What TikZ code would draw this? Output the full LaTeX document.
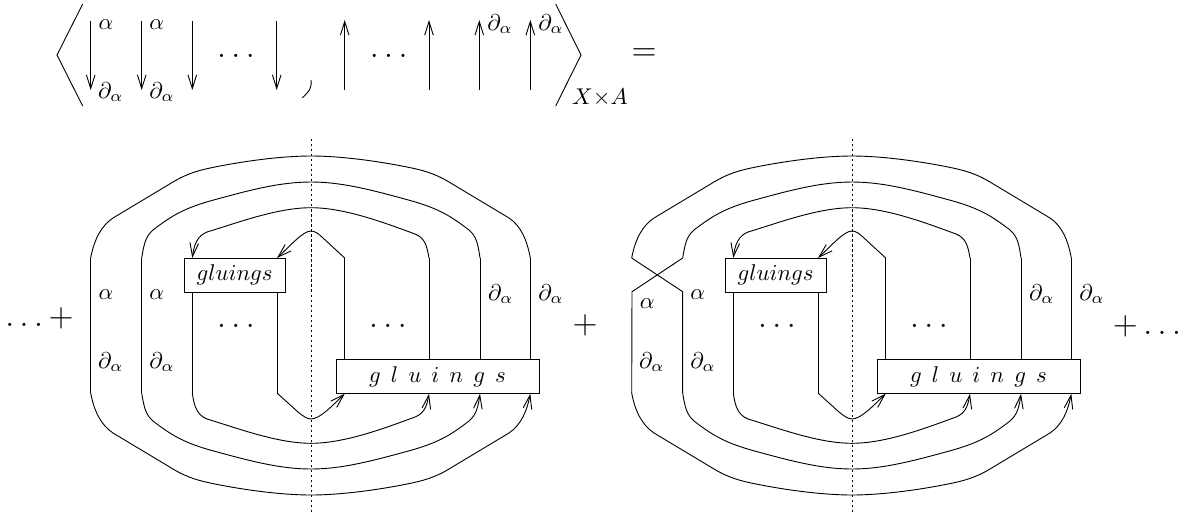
\documentclass[tikz,border=0pt]{standalone}
\usepackage{tikz}
\usetikzlibrary{arrows.meta}
\tikzstyle{arrow} = [-{Straight Barb[length=6pt,width=3.8pt]}]
\tikzstyle{smallbox} = [
    rectangle,
    inner sep=0pt,
    minimum width=44.3pt,
    minimum height=14.9pt,
    fill=white,
    draw=black
]
\tikzstyle{largebox} = [
    rectangle,
    inner sep=0pt,
    minimum width=89pt,
    minimum height=14.9pt,
    fill=white,
    draw=black
]
\tikzstyle{axis} = [dash pattern=on 1pt off 1.2pt]
\tikzstyle{label} = [inner sep=0pt]
\tikzstyle{dotlabel} = [inner sep=0pt, anchor=base, font=\Large]

\begin{document}
\begin{tikzpicture}[x=0.4386pt, y=-0.4386pt]

\useasboundingbox (0,0) rectangle (1185,517);

% top row
\coordinate (lefttop) at (82.7,4);
\coordinate (leftmid) at (57,55);
\coordinate (leftbot) at (82.7,106);
\coordinate (righttop) at (555.7,4);
\coordinate (rightmid) at (581,55);
\coordinate (rightbot) at (555.7,106);

\draw (lefttop) -- (leftmid) -- (leftbot);
\draw (righttop) -- (rightmid) -- (rightbot);

\foreach \i/\x in {1/90.7, 2/141.7, 3/192.3, 4/276.7} {
    \coordinate (downtop\i) at (\x,21);
    \coordinate (downbot\i) at (\x,90);
    \draw [arrow] (downtop\i) -- (downbot\i);
}

\foreach \i/\x in {1/344.7, 2/429, 3/479.3, 4/530.3} {
    \coordinate (upbot\i) at (\x,89.5);
    \coordinate (uptop\i) at (\x,20);
    \draw [arrow] (upbot\i) -- (uptop\i);
}

\node (a1) [label] at (106,25) {$\alpha$};
\node (a2) [label] at (156.7,25) {$\alpha$};
\node (d1) [label] at (110.7,92) {$\partial_\alpha$};
\node (d2) [label] at (162,92) {$\partial_\alpha$};
\node (d3) [label] at (500,24) {$\partial_\alpha$};
\node (d4) [label] at (551,24) {$\partial_\alpha$};
\node (dots1) [dotlabel] at (236,57.5) {$\ldots$};
\node (dots2) [dotlabel] at (388.7,57.5) {$\ldots$};
\node (times) [label] at (600,98) {$X{\times}A$};
\node (equal) [label] at (644,55) {\Large $=$};

\coordinate (commatop) at (311,80);
\coordinate (commabot) at (302.3,97.7);
\draw (commatop) .. controls (312,88) and (309,92) .. (commabot);

% the two closed diagrams
\foreach \pre/\dx in {p/0, q/541} {
\begin{scope}[shift={(\dx,0)}]

\foreach \i/\x in {1/90.7, 2/141.7, 3/192.3, 4/277, 5/344.7, 6/429, 7/480, 8/530.3} {
    \coordinate (\pre top\i) at (\x,258);
    \coordinate (\pre bot\i) at (\x,393);
}

\coordinate (\pre axtop) at (311,139);
\coordinate (\pre axbot) at (311,512);
\draw [axis] (\pre axtop) -- (\pre axbot);

\node (\pre small) [smallbox] at (234.7,275) {$gluings$};

\node (\pre large) [largebox] at (437.5,376.3) 
{$g\mkern8mu l\mkern8mu u\mkern8mu i\mkern8mu n\mkern8mu g\mkern8mu s$};

\node (\pre dotsl) [dotlabel] at (236,327.5) {$\ldots$};
\node (\pre dotsr) [dotlabel] at (388,327.5) {$\ldots$};

\node (\pre a2) [label] at (156.7,295) {$\alpha$};
\node (\pre d1) [label] at (110.7,362) {$\partial_\alpha$};
\node (\pre d2) [label] at (162,362) {$\partial_\alpha$};
\node (\pre d3) [label] at (500.7,294) {$\partial_\alpha$};
\node (\pre d4) [label] at (551,294) {$\partial_\alpha$};

% upper arcs
\draw (\pre top1) .. controls (94,240) and (101,226) .. (113,218) -- (173,182)
    .. controls (188,173) and (200,170) .. (215,167)
    .. controls (250,160) and (285,156) .. (311,156)
    .. controls (337,156) and (372,160) .. (407,167)
    .. controls (422,170) and (434,173) .. (449,182) -- (509,218)
    .. controls (521,226) and (527,240) .. (\pre top8);
\draw (\pre top2) .. controls (144,243) and (146,236) .. (153,230)
    .. controls (170,217) and (182,209) .. (210,201)
    .. controls (250,190) and (280,182) .. (311,182)
    .. controls (342,182) and (372,190) .. (412,201)
    .. controls (440,209) and (452,217) .. (469,230)
    .. controls (476,236) and (478,243) .. (\pre top7);
\draw [arrow] (\pre top6) .. controls (427,246) and (425,238) .. (415,234)
    .. controls (385,223) and (345,207.7) .. (311,207.7)
    .. controls (277,207.7) and (237,223) .. (207,232)
    .. controls (197,236) and (194,245) .. (\pre top3);
\draw [arrow] (\pre top5) -- (323,238)
    .. controls (319,234) and (315,231) .. (311,231)
    .. controls (303,231) and (290,246) .. (\pre top4);

% lower arcs
\draw [arrow] (\pre bot1) .. controls (94,411) and (101,425) .. (113,433) -- (173,469)
    .. controls (188,478) and (200,481) .. (215,484)
    .. controls (250,491) and (285,495) .. (311,495)
    .. controls (337,495) and (372,491) .. (407,484)
    .. controls (422,481) and (434,478) .. (449,469) -- (509,433)
    .. controls (521,425) and (527,411) .. (\pre top8 |- \pre large.south);
\draw [arrow] (\pre bot2) .. controls (144,408) and (146,415) .. (153,421)
    .. controls (170,434) and (182,442) .. (210,450)
    .. controls (250,461) and (280,469) .. (311,469)
    .. controls (342,469) and (372,461) .. (412,450)
    .. controls (440,442) and (452,434) .. (469,421)
    .. controls (476,415) and (478,408) .. (\pre top7 |- \pre large.south);
\draw [arrow] (\pre bot3) .. controls (194,406) and (197,415) .. (207,419)
    .. controls (237,428) and (277,443.3) .. (311,443.3)
    .. controls (345,443.3) and (385,428) .. (415,417)
    .. controls (425,413) and (427,405) .. (\pre top6 |- \pre large.south);
\draw [arrow] (\pre bot4) -- (298,412)
    .. controls (303,416) and (307,419) .. (311,419)
    .. controls (320,419) and (333,405) .. (\pre top5 |- \pre large.south);

% verticals
\draw (\pre top3 |- \pre small.south) -- (\pre bot3);
\draw (\pre top4 |- \pre small.south) -- (\pre bot4);
\draw (\pre top5) -- (\pre top5 |- \pre large.north);
\draw (\pre top6) -- (\pre top6 |- \pre large.north);
\draw (\pre top7) -- (\pre top7 |- \pre large.north);
\draw (\pre top8) -- (\pre top8 |- \pre large.north);

\end{scope}
}

% left diagram goes straight down
\draw (ptop1) -- (pbot1);
\draw (ptop2) -- (pbot2);
\node (pa1) [label] at (106,295) {$\alpha$};

% right diagram has the crossing
\coordinate (qcross1) at (632,291.7);
\coordinate (qcross2) at (682.7,291.7);
\draw (qtop1) -- (qcross2) -- (qbot2);
\draw (qtop2) -- (qcross1) -- (qbot1);
\node (qa1) [label] at (647.3,304) {$\alpha$};

\node (plusl) [dotlabel] at (39.5,326) {$\ldots{+}$};
\node (plusm) [label] at (585,325.7) {\Large $+$};
\node (plusr) [dotlabel] at (1147,334) {${+}\ldots$};

\end{tikzpicture}
\end{document}
